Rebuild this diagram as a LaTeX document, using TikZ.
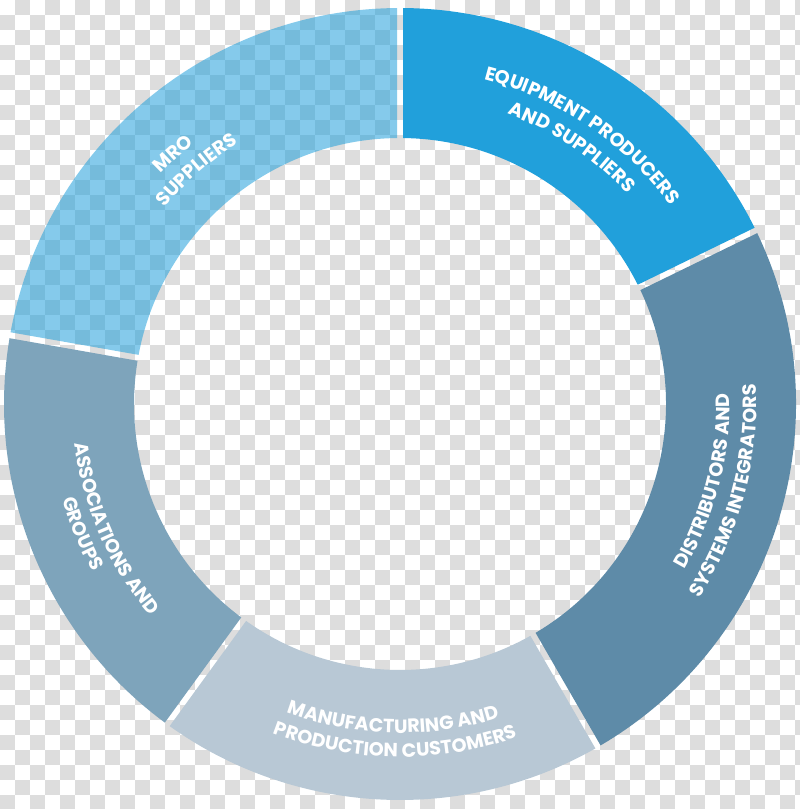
\documentclass[tikz,border=0pt]{standalone}
\usepackage{fontspec}
\newfontfamily\labelfont{Poppins Bold}
\usetikzlibrary{decorations.text}
\definecolor{checkgray}{HTML}{DDDDDD}
\definecolor{equipblue}{HTML}{21A0DB}
\definecolor{distblue}{HTML}{5E8BA8}
\definecolor{manuflight}{HTML}{B8C8D5}
\definecolor{assocblue}{HTML}{7EA4BB}

\begin{document}
\begin{tikzpicture}[
    x=0.025cm, y=0.025cm,
    mroseg/.style={fill=equipblue, fill opacity=0.55},
    equipseg/.style={fill=equipblue},
    distseg/.style={fill=distblue},
    manufseg/.style={fill=manuflight},
    assocseg/.style={fill=assocblue},
    arclabel/.style={
        decorate,
        decoration={text along path, text align=center, text color=white,
            text={|\labelfont\fontsize{13.6}{15}\selectfont|#1}}
    }
]

\useasboundingbox (0,0) rectangle (800,-809);
\fill[white] (0,0) rectangle (800,-809);

% transparency checker behind the ring
\begin{scope}
\clip (0,0) rectangle (800,-809);
\foreach \j in {0,...,53} {
    \pgfmathtruncatemacro{\s}{mod(\j+1,2)}
    \pgfmathtruncatemacro{\t}{\s+2}
    \foreach \i in {\s,\t,...,53}
        \fill[checkgray] (15*\i,-15*\j) rectangle ++(15,-15);
}
\end{scope}

\begin{scope}[shift={(400,-404)}]
\def\Ro{396}
\def\Ri{266}
\def\go{0.434}
\def\gi{0.646}

\foreach \a/\b/\sty in {90/170/mroseg, 26/90/equipseg, -60/26/distseg,
    -126/-60/manufseg, 170/234/assocseg} {
    \fill[\sty] (\a+\go:\Ro) arc[start angle=\a+\go, end angle=\b-\go, radius=\Ro]
        -- (\b-\gi:\Ri) arc[start angle=\b-\gi, end angle=\a+\gi, radius=\Ri] -- cycle;
}

% labels on top run clockwise, the others counter-clockwise
\path[arclabel={MRO}] (177.2:332) arc[start angle=177.2, end angle=87.2, radius=332];
\path[arclabel={SUPPLIERS}] (176:306.5) arc[start angle=176, end angle=86, radius=306.5];

\path[arclabel={EQUIPMENT PRODUCERS}] (100.9:335.5) arc[start angle=100.9, end angle=10.9, radius=335.5];
\path[arclabel={AND SUPPLIERS}] (101.2:309.5) arc[start angle=101.2, end angle=11.2, radius=309.5];

\path[arclabel={DISTRIBUTORS AND}] (-59.2:329.5) arc[start angle=-59.2, end angle=30.8, radius=329.5];
\path[arclabel={SYSTEMS INTEGRATORS}] (-59.9:356.5) arc[start angle=-59.9, end angle=30.1, radius=356.5];

\path[arclabel={MANUFACTURING AND}] (-136.3:329) arc[start angle=-136.3, end angle=-46.3, radius=329];
\path[arclabel={PRODUCTION CUSTOMERS}] (-135.8:353) arc[start angle=-135.8, end angle=-45.8, radius=353];

\path[arclabel={ASSOCIATIONS AND}] (158.6:327.5) arc[start angle=158.6, end angle=248.6, radius=327.5];
\path[arclabel={GROUPS}] (157.2:350.5) arc[start angle=157.2, end angle=247.2, radius=350.5];
\end{scope}

\end{tikzpicture}
\end{document}
